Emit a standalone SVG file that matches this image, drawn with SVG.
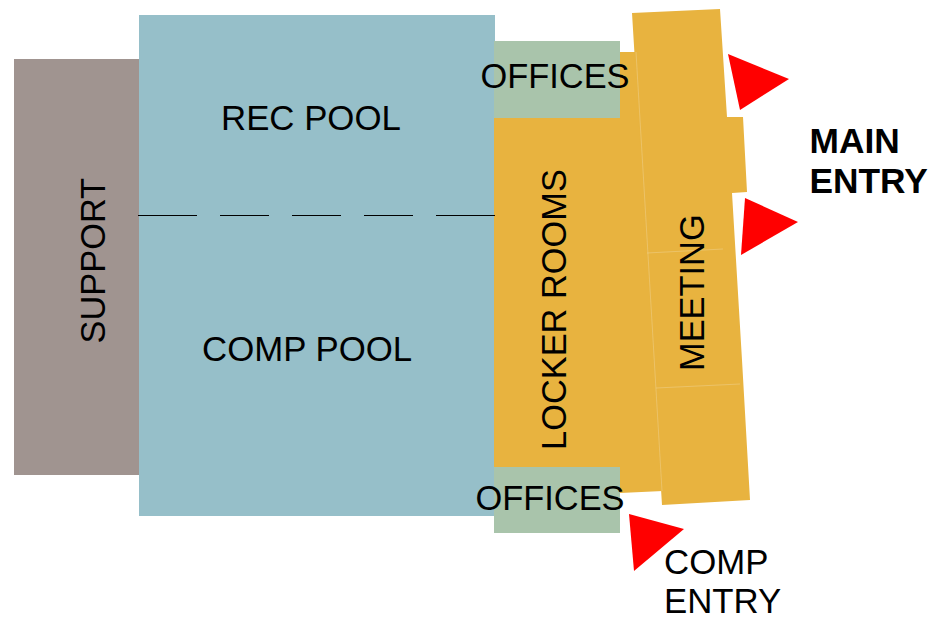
<svg xmlns="http://www.w3.org/2000/svg" width="930" height="618" viewBox="0 0 930 618">
<style>
text{font-family:"Liberation Sans",Arial,sans-serif;font-size:34.800px;fill:#000}
text.tight{font-size:34.400px}
text.main{font-size:35.300px;font-weight:bold}
.pool{fill:#96bfc9}.gold{fill:#e8b33f}.office{fill:#a9c4ab}.support{fill:#a09490}
.hair{fill:none;stroke:#f0d9a0;stroke-width:.6;stroke-opacity:.7}
.arrow{fill:#ff0000}
</style>
<rect width="930" height="618" fill="#fff"/>
<g id="support"><rect class="support" x="14" y="59" width="125" height="416"/><text class="tight" transform="translate(104.500 343.500) rotate(-90)">SUPPORT</text></g>
<g id="pools"><rect class="pool" x="139" y="15" width="356" height="501"/><text x="221" y="130">REC POOL</text><text x="202" y="361">COMP POOL</text></g>
<g id="locker-rooms"><polygon class="gold" points="494,118 620,118 620,52 636,52 663,491 620,493 494,493"/><text class="tight" transform="translate(566 450) rotate(-90)">LOCKER ROOMS</text></g>
<g id="offices-top"><rect class="office" x="494" y="41" width="126" height="77"/><text class="tight" x="480.500" y="88">OFFICES</text></g>
<g id="offices-bottom"><rect class="office" x="494" y="467" width="126" height="66"/><text class="tight" x="475.500" y="510">OFFICES</text></g>
<g id="meeting"><polygon class="gold" points="632,13 720,9 727,117 743,117 747,192 732,193 742,360 750,500 662,505"/><path class="hair" d="M636 52L662 491M647 253L723 249M656 388L740 384"/><text class="tight" transform="translate(703.500 371) rotate(-90)">MEETING</text></g>
<g id="connectors">
<path d="M138 215.500H197M220 215.500H269M292 215.500H341M364 215.500H413M436 215.500H495" stroke="#000" stroke-width="1" fill="none"/>
<polygon class="arrow" points="728,54 789,79 740,110"/>
<polygon class="arrow" points="745,198 798,222 741,255"/>
<polygon class="arrow" points="629,514 684,529 634,571"/>
</g>
<g id="labels"><text class="main" x="809.500" y="153">MAIN</text><text class="main" x="809.500" y="193">ENTRY</text><text x="664" y="574">COMP</text><text x="664" y="613">ENTRY</text></g>
</svg>
